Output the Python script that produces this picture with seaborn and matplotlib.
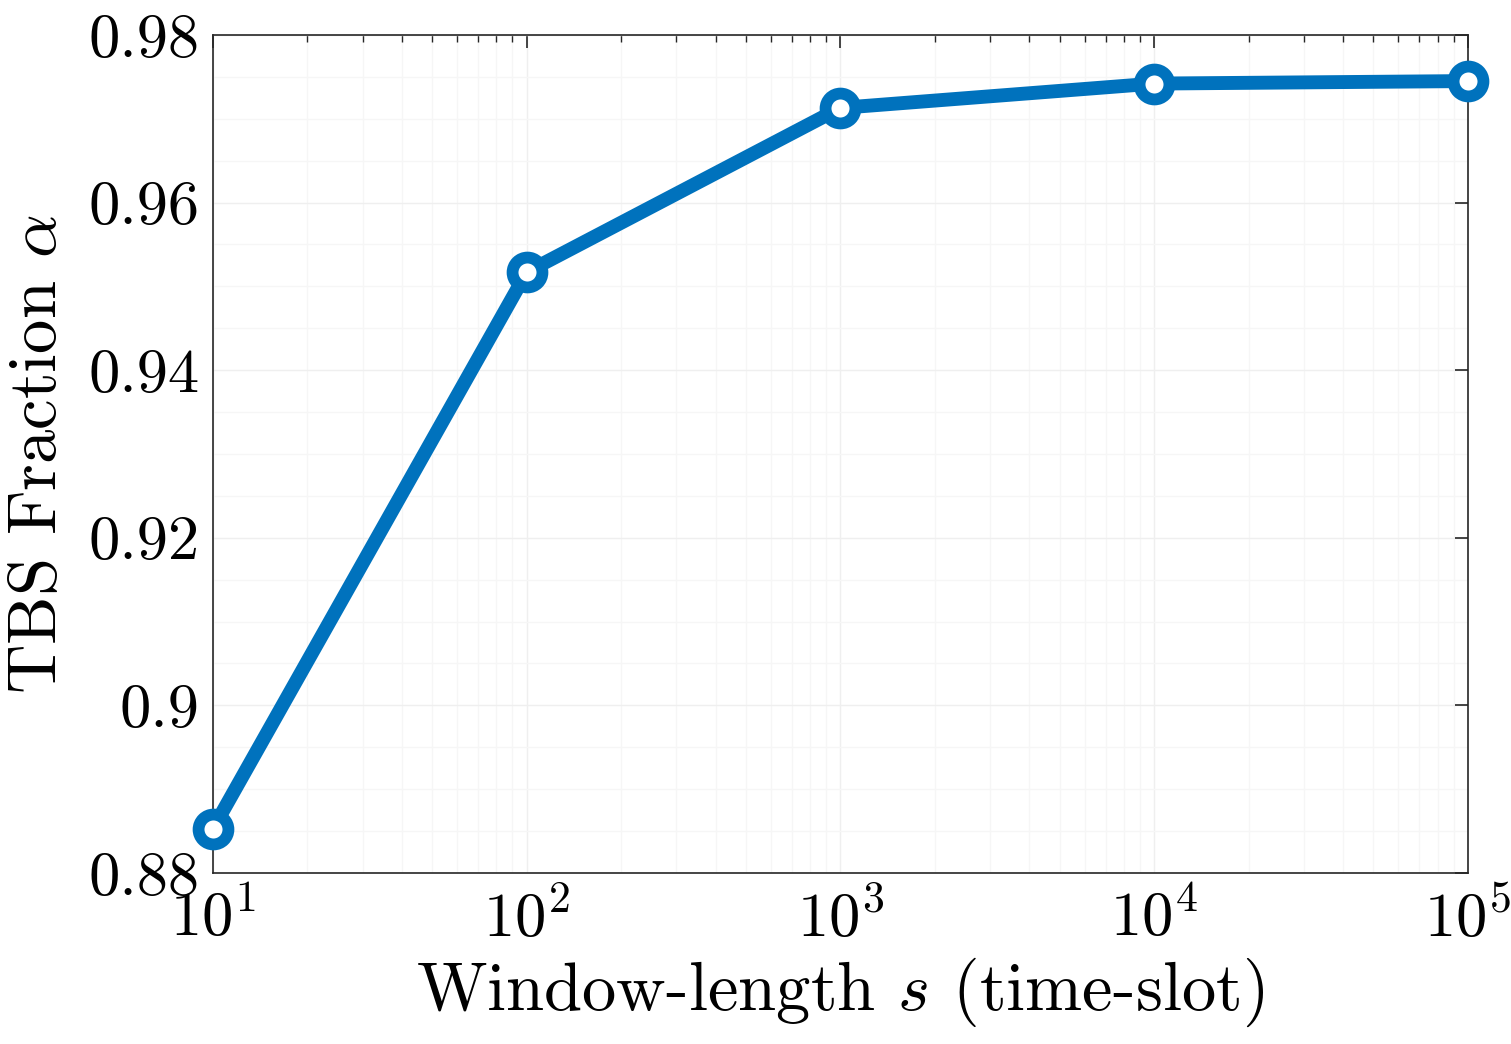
import matplotlib
matplotlib.use("Agg")
import matplotlib.pyplot as plt
import matplotlib.ticker as mticker
import seaborn as sns
import numpy as np

window_length = [10, 100, 1000, 10000, 100000]
tbs_fraction = [0.8853, 0.9517, 0.9713, 0.9742, 0.9745]
y_ticks = [0.88, 0.90, 0.92, 0.94, 0.96, 0.98]
y_tick_labels = ["0.88", "0.9", "0.92", "0.94", "0.96", "0.98"]
x_label = r"Window-length $s$ (time-slot)"
y_label = r"TBS Fraction $\alpha$"

sns.set_theme(style="white")
plt.rcParams["font.family"] = ["cmr10", "DejaVu Serif"]
plt.rcParams["mathtext.fontset"] = "cm"
plt.rcParams["axes.formatter.use_mathtext"] = True
plt.rcParams["axes.unicode_minus"] = False

fig = plt.figure(figsize=(15.11, 10.44), dpi=100)
ax = fig.add_axes([0.141, 0.1638, 0.8305, 0.8027])

color = "#0072BD"
sns.lineplot(x=window_length, y=tbs_fraction, ax=ax, color=color, linewidth=10,
             marker="o", markersize=21.5, markeredgewidth=8.5,
             markerfacecolor="white", markeredgecolor=color, clip_on=False, zorder=5)

ax.set_xscale("log")
ax.set_xlim(10, 100000)
ax.set_ylim(0.88, 0.98)
ax.set_yticks(y_ticks)
ax.set_yticklabels(y_tick_labels)
ax.yaxis.set_minor_locator(mticker.MultipleLocator(0.005))
ax.xaxis.set_major_locator(mticker.LogLocator(base=10, numticks=10))
ax.xaxis.set_minor_locator(mticker.LogLocator(base=10, subs=np.arange(2, 10), numticks=20))
ax.xaxis.set_minor_formatter(mticker.NullFormatter())

ax.grid(True, which="major", color="#efefef", linewidth=1.0)
ax.grid(True, which="minor", color="#f6f6f6", linewidth=1.0)
ax.set_axisbelow(True)

for sp in ax.spines.values():
    sp.set_visible(True)
    sp.set_color("#262626")
    sp.set_linewidth(1.2)

ax.tick_params(which="both", direction="in", top=True, right=True, colors="#262626")
ax.tick_params(which="major", length=9.5, width=1.2, labelsize=45, labelcolor="black")
ax.tick_params(axis="x", which="major", pad=12)
ax.tick_params(axis="y", which="major", pad=10)
ax.tick_params(which="minor", length=5, width=1.0)
ax.tick_params(axis="y", which="minor", length=0)

ax.set_xlabel(x_label, fontsize=49.4, color="black", labelpad=4)
ax.set_ylabel(y_label, fontsize=49.4, color="black", labelpad=14)

fig.savefig("out.png", dpi=100)
